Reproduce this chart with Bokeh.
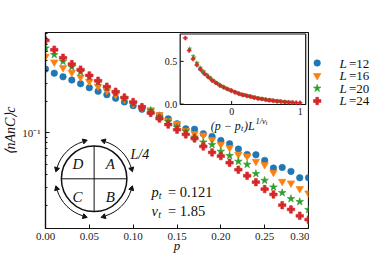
import math
from bokeh.plotting import figure
from bokeh.layouts import row
from bokeh.models import (Range1d, FixedTicker, NumeralTickFormatter, Label,
                          ColumnDataSource, LinearScale)
from bokeh.embed import file_html
from bokeh.resources import INLINE

# ---------------- data ----------------
p_vals = [0.00, 0.01, 0.02, 0.03, 0.04, 0.05, 0.06, 0.07, 0.08, 0.09, 0.10,
          0.11, 0.12, 0.13, 0.14, 0.15, 0.16, 0.17, 0.18, 0.19, 0.20,
          0.21, 0.22, 0.23, 0.24, 0.25, 0.26, 0.27, 0.28, 0.29, 0.30]
L_sizes = [12, 16, 20, 24]
y_L12 = [0.409, 0.374, 0.345, 0.321, 0.296, 0.271, 0.250, 0.232, 0.214, 0.198, 0.182,
         0.168, 0.158, 0.147, 0.136, 0.122, 0.109, 0.108, 0.0978, 0.0921, 0.0843,
         0.0784, 0.0696, 0.0618, 0.0614, 0.0542, 0.0457, 0.0464, 0.0425, 0.0369, 0.0369]
y_L16 = [0.542, 0.478, 0.422, 0.380, 0.343, 0.311, 0.279, 0.253, 0.232, 0.209, 0.190,
         0.175, 0.166, 0.149, 0.131, 0.122, 0.105, 0.098, 0.0948, 0.0857, 0.0772,
         0.0718, 0.0618, 0.0596, 0.0530, 0.0492, 0.0415, 0.0340, 0.0328, 0.0290, 0.0263]
y_L20 = [0.650, 0.562, 0.485, 0.428, 0.383, 0.343, 0.307, 0.273, 0.245, 0.216, 0.195,
         0.177, 0.164, 0.141, 0.128, 0.113, 0.1035, 0.0907, 0.0812, 0.0767, 0.0661,
         0.0601, 0.0530, 0.0496, 0.0404, 0.0348, 0.0300, 0.0265, 0.0232, 0.0217, 0.0182]
y_L24 = [0.772, 0.628, 0.526, 0.457, 0.404, 0.356, 0.316, 0.277, 0.248, 0.218, 0.197,
         0.176, 0.155, 0.137, 0.120, 0.107, 0.0964, 0.0881, 0.0738, 0.0647, 0.0596,
         0.0515, 0.0441, 0.0386, 0.0335, 0.0287, 0.0255, 0.0201, 0.0183, 0.0159, 0.0146]
series = [y_L12, y_L16, y_L20, y_L24]
p_t = 0.121
nu_t = 1.85

x_ticks = [0.00, 0.05, 0.10, 0.15, 0.20, 0.25, 0.30]
y_major_ticks = [0.1]
y_minor_ticks = [0.02, 0.03, 0.04, 0.05, 0.06, 0.07, 0.08, 0.09,
                 0.2, 0.3, 0.4, 0.5, 0.6, 0.7, 0.8, 0.9]
inset_x_ticks = [0, 1]
inset_x_labels = ["0", "1"]
inset_y_ticks = [0.0, 0.5]
inset_y_labels = ["0.0", "0.5"]

# ---------------- style ----------------
SERIF = "Liberation Serif"
INK = "#111111"
COLORS = ["#1f77b4", "#ff7f0e", "#2ca02c", "#d62728"]
MARKERS = ["circle", "inverted_triangle", "star", "plus"]
SIZES = [6.5, 7.5, 8.0, 7.5]
INSET_SIZES = [3.0, 3.5, 4.0, 4.0]

W_MAIN, W_LEG, H = 309, 65, 257
BL, BR, BT, BB = 43, 1, 32, 29
FW = W_MAIN - BL - BR
FH = H - BT - BB

# inset box inside the frame (frame pixels, origin bottom-left)
IN_L, IN_R, IN_B, IN_T = 135.7, 262.2, 124.0, 194.5
IX = (-0.75, 1.08)
IY = (-0.005, 0.82)
sx = (IX[1] - IX[0]) / (IN_R - IN_L)
sy = (IY[1] - IY[0]) / (IN_T - IN_B)

p = figure(width=W_MAIN, height=H, x_range=(0.0, 0.30), y_range=(0.012, 0.92),
           y_axis_type="log", output_backend="svg", toolbar_location=None,
           min_border_left=BL, min_border_right=BR, min_border_top=BT,
           min_border_bottom=BB)
p.extra_x_ranges = {"px": Range1d(0, FW),
                    "ix": Range1d(IX[0] - IN_L * sx, IX[1] + (FW - IN_R) * sx)}
p.extra_y_ranges = {"py": Range1d(0, FH),
                    "iy": Range1d(IY[0] - IN_B * sy, IY[1] + (FH - IN_T) * sy)}
p.extra_x_scales = {"px": LinearScale(), "ix": LinearScale()}
p.extra_y_scales = {"py": LinearScale(), "iy": LinearScale()}
p.grid.visible = False
p.background_fill_color = "white"
p.border_fill_color = "white"
p.outline_line_color = INK
p.outline_line_width = 1.2
p.outline_line_alpha = 1.0

xa = p.xaxis[0]
xa.ticker = FixedTicker(ticks=x_ticks)
xa.formatter = NumeralTickFormatter(format="0.00")
ya = p.yaxis[0]
ya.ticker = FixedTicker(ticks=y_major_ticks, minor_ticks=y_minor_ticks)
ya.major_label_overrides = {0.1: "10\u207b\u00b9"}
for ax in (xa, ya):
    ax.axis_line_color = INK
    ax.axis_line_width = 1.2
    ax.major_tick_in = 4
    ax.major_tick_out = 0
    ax.major_tick_line_color = INK
    ax.minor_tick_in = 2
    ax.minor_tick_out = 0
    ax.minor_tick_line_color = INK
    ax.major_label_text_font = SERIF
    ax.major_label_text_font_size = "11px"
    ax.major_label_text_color = "#222222"
    ax.axis_label_text_font = SERIF
    ax.axis_label_text_font_style = "italic"
    ax.axis_label_text_color = INK
xa.minor_tick_in = 0
xa.major_label_standoff = 4
ya.major_label_standoff = 5
xa.axis_label = "p"
xa.axis_label_text_font_size = "13px"
xa.axis_label_standoff = -5
ya.axis_label = "\u27e8nAnC\u27e9c"
ya.axis_label_text_font_size = "14px"
ya.axis_label_standoff = 1

# ---------------- inset frame ----------------
p.quad(left=[IX[0]], right=[IX[1]], bottom=[IY[0]], top=[IY[1]],
       x_range_name="ix", y_range_name="iy", fill_color="white",
       line_color=INK, line_width=1.2)
p.segment(x0=[IX[0]] * len(inset_y_ticks), x1=[IX[0] + 3.5 * sx] * len(inset_y_ticks),
          y0=inset_y_ticks, y1=inset_y_ticks, x_range_name="ix", y_range_name="iy",
          line_color=INK, line_width=1)
p.segment(x0=inset_x_ticks, x1=inset_x_ticks, y0=[IY[0]] * len(inset_x_ticks),
          y1=[IY[0] + 3.5 * sy] * len(inset_x_ticks), x_range_name="ix",
          y_range_name="iy", line_color=INK, line_width=1)

# ---------------- data marks ----------------
inset_sources = []
for L, vals, col, mk, sz in zip(L_sizes, series, COLORS, MARKERS, SIZES):
    src = ColumnDataSource(dict(p=p_vals, v=vals,
                                xs=[(pp - p_t) * L ** (1.0 / nu_t) for pp in p_vals]))
    inset_sources.append(src)
    p.scatter("p", "v", source=src, marker=mk, size=sz,
              fill_color=col, line_color=col, line_width=0.6)
for src, col, mk, sz in zip(inset_sources, COLORS, MARKERS, INSET_SIZES):
    p.scatter("xs", "v", source=src, marker=mk, size=sz, fill_color=col,
              line_color=col, line_width=0.4, x_range_name="ix", y_range_name="iy")


def lab(fig, x, y, text, size, style="normal", align="left", baseline="alphabetic",
        angle=0.0, xr="px", yr="py", color=INK, xo=0, yo=0):
    fig.add_layout(Label(x=x, y=y, text=text, x_range_name=xr, y_range_name=yr,
                         text_font=SERIF, text_font_size=f"{size}px",
                         text_font_style=style, text_align=align,
                         text_baseline=baseline, angle=angle, text_color=color,
                         x_offset=xo, y_offset=yo))


# inset tick labels
for t, tl in zip(inset_y_ticks, inset_y_labels):
    lab(p, IX[0], t, tl, 10, align="right", baseline="middle", xr="ix", yr="iy", xo=-3)
for t, tl in zip(inset_x_ticks, inset_x_labels):
    lab(p, t, IY[0], tl, 10, align="center", baseline="top", xr="ix", yr="iy", yo=-3)

# inset x label (p - p_t) L^{1/nu_t}
IXL0, IYB = 166.5, 103.0
lab(p, IXL0, IYB, "(p \u2212 p", 12, "italic")
lab(p, IXL0 + 30.5, IYB - 2.5, "t", 8.5, "italic")
lab(p, IXL0 + 33.5, IYB, ")L", 12, "italic")
lab(p, IXL0 + 45.0, IYB + 5.0, "1/\u03bd", 8.5, "italic")
lab(p, IXL0 + 55.5, IYB + 3.0, "t", 6, "italic")

# parameters
lab(p, 106.7, 36.5, "p", 14.5, "italic")
lab(p, 114.0, 33.0, "t", 10, "italic")
lab(p, 123.5, 36.5, f"= {p_t}", 14.5)
lab(p, 106.7, 18.0, "\u03bd", 14.5, "italic")
lab(p, 113.7, 14.5, "t", 10, "italic")
lab(p, 123.5, 18.0, f"= {nu_t}", 14.5)

# ---------------- circle diagram ----------------
CX, CY, CR, AR = 49.0, 49.7, 33.0, 39.0
p.circle(x=[CX], y=[CY], radius=CR, fill_color=None, line_color=INK,
         line_width=1.5, x_range_name="px", y_range_name="py")
p.segment(x0=[CX - CR, CX], y0=[CY, CY - CR], x1=[CX + CR, CX], y1=[CY, CY + CR],
          line_color=INK, line_width=1.0, x_range_name="px", y_range_name="py")
HALF = 28.0
hx, hy, ha = [], [], []
for c in [45, 135, 225, 315]:
    a0, a1 = c - HALF, c + HALF
    p.arc(x=[CX], y=[CY], radius=AR, start_angle=math.radians(a0),
          end_angle=math.radians(a1), line_color=INK, line_width=1.0,
          x_range_name="px", y_range_name="py")
    for a, rot in [(a0 - 2.5, a0 - 180.0), (a1 + 2.5, a1)]:
        hx.append(CX + AR * math.cos(math.radians(a)))
        hy.append(CY + AR * math.sin(math.radians(a)))
        ha.append(math.radians(rot))
p.scatter(x=hx, y=hy, angle=ha, marker="triangle", size=5, fill_color=INK,
          line_color=INK, x_range_name="px", y_range_name="py")

lab(p, 32.7, 65.0, "D", 15, "italic", align="center", baseline="middle")
lab(p, 65.2, 65.0, "A", 15, "italic", align="center", baseline="middle")
lab(p, 32.2, 32.0, "C", 15, "italic", align="center", baseline="middle")
lab(p, 65.2, 32.0, "B", 15, "italic", align="center", baseline="middle")
lab(p, 85.7, 74.5, "L/4", 14, "italic")

# ---------------- legend panel (separate figure to the right) ----------------
q = figure(width=W_LEG, height=H, x_range=(0, W_LEG), y_range=(0, H),
           output_backend="svg", toolbar_location=None, min_border=0,
           x_axis_location=None, y_axis_location=None)
q.grid.visible = False
q.outline_line_color = None
q.background_fill_color = "white"
q.border_fill_color = "white"
KEY_X, TXT_L_X, TXT_V_X = 7.7, 30.0, 39.5
ROW0, ROW = H - 40.0, 16.6
for i, (L, col, mk, sz) in enumerate(zip(L_sizes, COLORS, MARKERS, SIZES)):
    yk = ROW0 - ROW * i
    q.scatter(x=[KEY_X], y=[yk], marker=mk, size=sz, fill_color=col,
              line_color=col, line_width=0.6)
    lab(q, TXT_L_X, yk, "L", 13, "italic", baseline="middle",
        xr="default", yr="default")
    lab(q, TXT_V_X, yk, f"={L}", 13, baseline="middle",
        xr="default", yr="default")

layout = row(p, q, spacing=0)
open("out.html", "w").write(file_html(layout, INLINE))
